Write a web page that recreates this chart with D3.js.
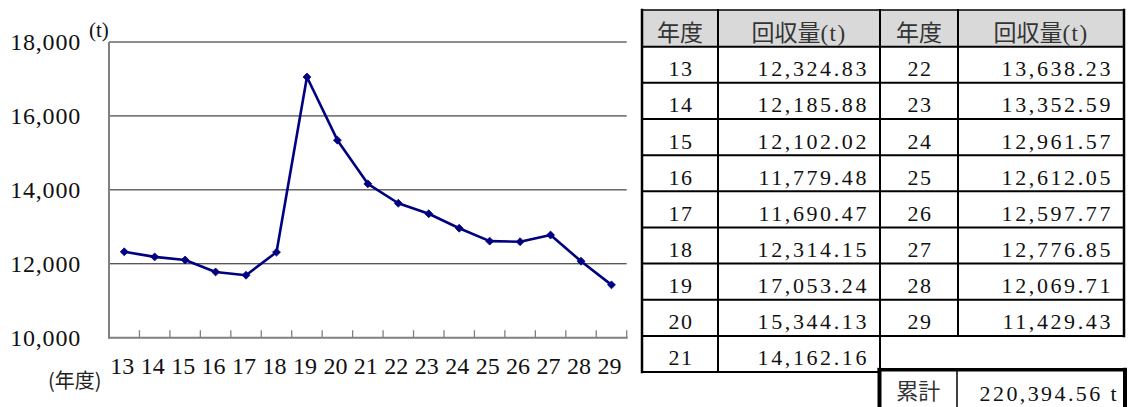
<!DOCTYPE html>
<html><head><meta charset="utf-8">
<script src="https://cdn.jsdelivr.net/npm/d3@7"></script>
<style>
html,body{margin:0;padding:0;background:#fff;}
svg{display:block;}
</style>
</head><body>
<svg id="chart" width="1130" height="407"></svg>
<script>
// ---- data ----
const years = ["13","14","15","16","17","18","19","20","21","22","23","24","25","26","27","28","29"];
const tonnage = [12324.83,12185.88,12102.02,11779.48,11690.47,12314.15,17053.24,15344.13,14162.16,
                 13638.23,13352.59,12961.57,12612.05,12597.77,12776.85,12069.71,11429.43];
const yTicks = [10000,12000,14000,16000,18000];
const headerYear = "年度";
const headerAmount = "回収量";
const unitLabel = "(t)";
const xAxisLabel = "(年度)";
const totalLabel = "累計";
const totalUnit = " t";

const SERIF = "'Liberation Serif', 'Times New Roman', serif";
const CJK = "'Noto Sans CJK JP', 'Noto Sans CJK SC', sans-serif";

const svg = d3.select("#chart");
const fmtAxis = d3.format(",");
const fmtVal = d3.format(",.2f");

// ---- chart ----
const plot = {left:109, right:626.7, top:42, bottom:337.7};
const x = d3.scaleBand().domain(years).range([plot.left, plot.right]).padding(0);
const y = d3.scaleLinear().domain([10000,18000]).range([plot.bottom, plot.top]);

const g = svg.append("g");
// gridlines
g.selectAll("line.grid").data(yTicks.filter(t=>t>10000)).join("line")
  .attr("x1",plot.left).attr("x2",plot.right)
  .attr("y1",d=>y(d)).attr("y2",d=>y(d))
  .attr("stroke","#1a1a1a").attr("stroke-width",1);
// y labels
g.selectAll("text.ylab").data(yTicks).join("text")
  .attr("font-family",SERIF).attr("x",81).attr("y",d=>y(d))
  .attr("text-anchor","end").attr("dominant-baseline","central")
  .attr("font-size",24).attr("letter-spacing",0.8).attr("fill","#111")
  .text(d=>fmtAxis(d));
// axes lines
g.append("line").attr("x1",plot.left).attr("x2",plot.left).attr("y1",plot.top).attr("y2",plot.bottom+1)
  .attr("stroke","#808080").attr("stroke-width",2);
g.append("line").attr("x1",plot.left).attr("x2",plot.right+1).attr("y1",plot.bottom).attr("y2",plot.bottom)
  .attr("stroke","#808080").attr("stroke-width",2);
// x tick marks at band edges
const edges = years.map(d=>x(d)).concat([plot.right]);
g.selectAll("line.xt").data(edges.slice(1)).join("line")
  .attr("x1",d=>d).attr("x2",d=>d).attr("y1",plot.bottom-7.5).attr("y2",plot.bottom)
  .attr("stroke","#808080").attr("stroke-width",1.3);
// x labels
g.selectAll("text.xlab").data(years).join("text")
  .attr("font-family",SERIF).attr("x",d=>x(d)+x.bandwidth()/2-2).attr("y",374)
  .attr("text-anchor","middle").attr("font-size",24).attr("fill","#111")
  .text(d=>d);
// unit labels
g.append("text").attr("font-family",SERIF).attr("x",89).attr("y",37).attr("font-size",21).attr("fill","#111").text(unitLabel);
g.append("text").attr("font-family",CJK).attr("x",48).attr("y",388).attr("font-size",20).attr("fill","#222").text(xAxisLabel);

// line
const pts = years.map((d,i)=>({year:d, v:tonnage[i]}));
const line = d3.line().x(d=>x(d.year)+x.bandwidth()/2).y(d=>y(d.v));
g.append("path").datum(pts).attr("d",line).attr("fill","none")
  .attr("stroke","#000080").attr("stroke-width",2.6).attr("stroke-linejoin","round");
g.selectAll("path.mk").data(pts).join("path")
  .attr("transform",d=>`translate(${x(d.year)+x.bandwidth()/2},${y(d.v)})`)
  .attr("d",d3.symbol(d3.symbolDiamond2 || d3.symbolDiamond, 40)())
  .attr("fill","#000080").attr("stroke","#000080").attr("stroke-width",0.8);

// ---- table ----
const cols = [642, 718, 880, 958, 1124];
const headTop = 10, headBot = 46.7, rowH = 36.15;
const nLeft = 9;
const leftRows = pts.slice(0, nLeft), rightRows = pts.slice(nLeft);
const t = svg.append("g");
// header bg
t.append("rect").attr("x",cols[0]).attr("y",headTop).attr("width",cols[4]-cols[0]).attr("height",headBot-headTop)
  .attr("fill","#d9d9d9");
const rowTop = i => headBot + i*rowH;
// header texts
[[0,1],[2,3]].forEach(([a,b])=>{
  t.append("text").attr("font-family",CJK).attr("x",(cols[a]+cols[a+1])/2).attr("y",41)
    .attr("text-anchor","middle").attr("font-size",23).attr("fill","#333").text(headerYear);
  const ht = t.append("text").attr("font-family",CJK).attr("x",(cols[b]+cols[b+1])/2).attr("y",41)
    .attr("text-anchor","middle").attr("font-size",23).attr("fill","#333");
  ht.append("tspan").text(headerAmount);
  ht.append("tspan").attr("font-family",SERIF).attr("font-size",23).attr("letter-spacing",1.5).text(unitLabel);
});
function drawRows(rows, cYear, cVal){
  rows.forEach((r,i)=>{
    const top = rowTop(i);
    t.append("text").attr("font-family",SERIF).attr("x",(cols[cYear]+cols[cYear+1])/2+1).attr("y",top+29.5)
      .attr("text-anchor","middle").attr("font-size",22).attr("letter-spacing",1.5).attr("fill","#111").text(r.year);
    t.append("text").attr("font-family",SERIF).attr("x",cols[cVal+1]-11).attr("y",top+29.5)
      .attr("text-anchor","end").attr("font-size",22).attr("letter-spacing",2.6).attr("fill","#111").text(fmtVal(r.v));
  });
}
drawRows(leftRows, 0, 1);
drawRows(rightRows, 2, 3);
// table lines
const L = (x1,y1,x2,y2,w=2)=>t.append("line").attr("x1",x1).attr("y1",y1).attr("x2",x2).attr("y2",y2)
  .attr("stroke","#000").attr("stroke-width",w).attr("stroke-linecap","square");
L(cols[0],headTop,cols[4],headTop,1.5);
L(cols[0],headBot,cols[4],headBot);
for(let i=1;i<=nLeft;i++) L(cols[0],rowTop(i),cols[2],rowTop(i));
for(let i=1;i<=rightRows.length;i++) L(cols[2],rowTop(i),cols[4],rowTop(i));
L(cols[0],headTop,cols[0],rowTop(nLeft),2.5);
L(cols[1],headTop,cols[1],rowTop(nLeft));
L(cols[2],headTop,cols[2],rowTop(nLeft));
L(cols[3],headTop,cols[3],rowTop(rightRows.length));
L(cols[4],headTop,cols[4],rowTop(rightRows.length),2.5);

// total box
const total = d3.sum(tonnage);
const boxTop = 369.8, boxL = 879.5, boxR = 1125, boxSep = 957;
t.append("text").attr("font-family",CJK).attr("x",(boxL+boxSep)/2).attr("y",399)
  .attr("text-anchor","middle").attr("font-size",22).attr("fill","#333").text(totalLabel);
t.append("text").attr("font-family",SERIF).attr("x",boxR-6).attr("y",401)
  .attr("text-anchor","end").attr("font-size",22).attr("letter-spacing",2.4).attr("fill","#111").text(fmtVal(total)+totalUnit);
L(boxL,boxTop,boxR,boxTop,3.5);
L(boxL,boxTop,boxL,412,4);
L(boxR,boxTop,boxR,412,4);
L(boxSep,boxTop,boxSep,412,1.5);
</script>
</body></html>
